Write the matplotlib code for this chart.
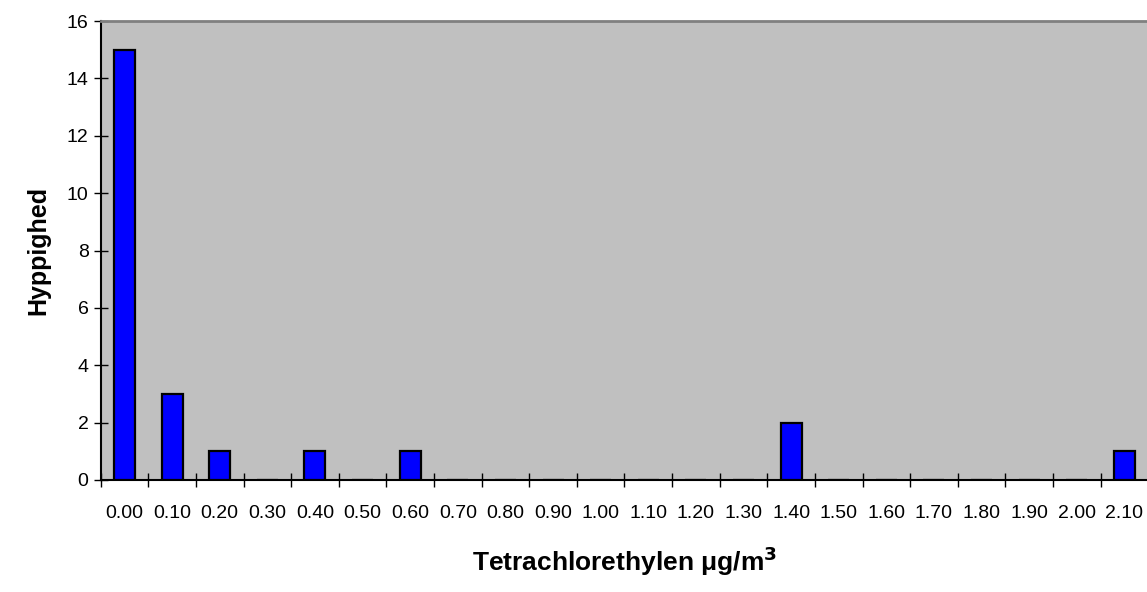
import matplotlib
matplotlib.use("Agg")
import matplotlib.pyplot as plt
import numpy as np

plt.rcParams['font.family'] = ['Liberation Sans', 'DejaVu Sans']

# koncentrationsklasser og antal maalinger i hver klasse
klasser = ["0.00", "0.10", "0.20", "0.30", "0.40", "0.50", "0.60", "0.70",
           "0.80", "0.90", "1.00", "1.10", "1.20", "1.30", "1.40", "1.50",
           "1.60", "1.70", "1.80", "1.90", "2.00", "2.10"]
hyppighed = [15, 3, 1, 0, 1, 0, 1, 0, 0, 0, 0, 0, 0, 0, 2, 0,
             0, 0, 0, 0, 0, 1]

fig = plt.figure(figsize=(11.47, 5.92), dpi=100)
ax = fig.add_axes([100.7 / 1147, 112 / 592, 1047.5 / 1147, 459 / 592])
ax.set_facecolor("#C0C0C0")

x = np.arange(len(klasser))
ax.bar(x, hyppighed, width=0.44, color="#0000FF", edgecolor="black",
       linewidth=1.6, zorder=3)

ax.set_xlim(-0.5, len(klasser) - 0.5)
ax.set_ylim(0, 16)
ax.set_yticks(range(0, 17, 2))

# streger mellem klasserne, tekst midt i klassen
ax.set_xticks(np.arange(len(klasser) + 1) - 0.5)
ax.set_xticklabels([])
ax.set_xticks(x, minor=True)
ax.set_xticklabels(klasser, minor=True, fontsize=14)
ax.tick_params(axis="x", which="minor", length=0, pad=18)
ax.tick_params(axis="x", which="major", direction="inout", length=9.5,
               width=1, color="black")
ax.tick_params(axis="y", direction="inout", length=9.5, width=1,
               labelsize=14, pad=4)

ax.spines["left"].set_linewidth(1.5)
ax.spines["bottom"].set_linewidth(1.5)
ax.spines["top"].set_color("#808080")
ax.spines["top"].set_linewidth(2)
ax.spines["right"].set_visible(False)

ax.set_ylabel("Hyppighed", fontsize=18, fontweight="bold", labelpad=12)
ax.set_xlabel("Tetrachlorethylen \u03bcg/m$^\\mathbf{3}$", fontsize=19,
              fontweight="bold", labelpad=16)

fig.savefig("out.png", dpi=100)
